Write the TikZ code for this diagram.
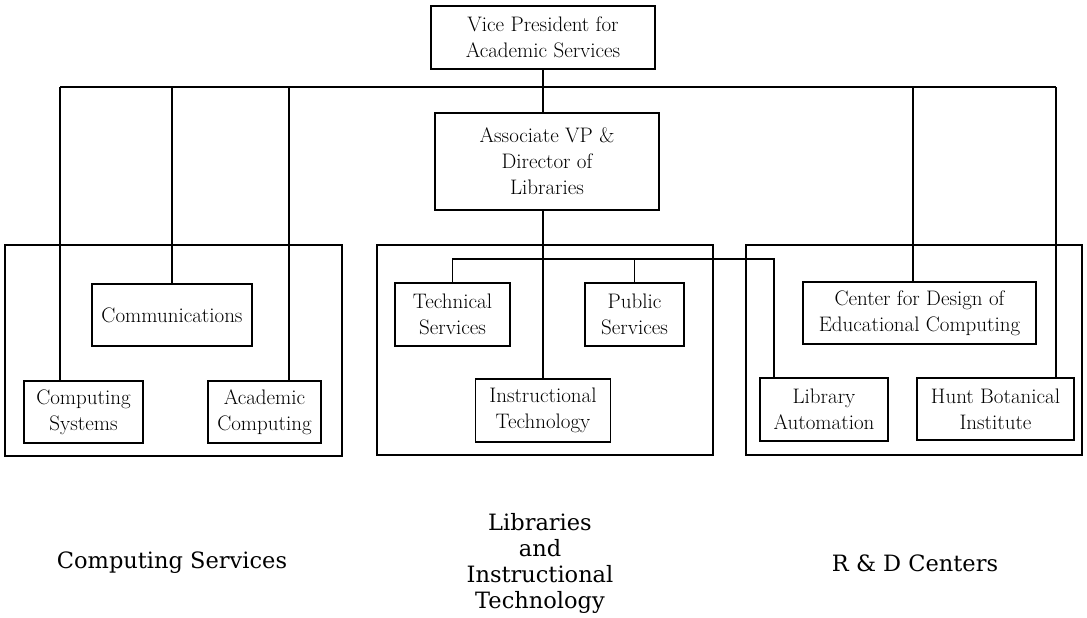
\documentclass[tikz,border=0pt]{standalone}
\usepackage{fontspec}
\newfontfamily\labelfont{DejaVu Serif}
\begin{document}
\begin{tikzpicture}[x=1pt,y=-1pt,
  box/.style={draw, line width=1.3pt, inner sep=0pt, align=center, fill=white,
              font=\fontsize{21}{26}\selectfont},
  group/.style={draw, line width=2.6pt, inner sep=0pt},
  conn/.style={line width=1.3pt},
  lbl/.style={align=center, inner sep=0pt, font=\labelfont\fontsize{22.5}{26}\selectfont}]
\useasboundingbox (0,0) rectangle (1087,618);

% group frames
\node[group, minimum width=337, minimum height=211] (gcs) at (173.5,350.5) {};
\node[group, minimum width=336, minimum height=210] (glib) at (545,350) {};
\node[group, minimum width=336, minimum height=210] (grd) at (914,350) {};

% boxes
\node[box, minimum width=224, minimum height=63] (vp) at (543,37.5) {Vice President for\\Academic Services};
\node[box, minimum width=224, minimum height=97] (avp) at (547,161.5) {Associate VP \&\\Director of\\Libraries};

\node[box, minimum width=160, minimum height=62] (comm) at (172,315) {Communications};
\node[box, minimum width=119, minimum height=62] (csys) at (83.5,412) {Computing\\Systems};
\node[box, minimum width=113, minimum height=62] (acad) at (264.5,412) {Academic\\Computing};

\node[box, minimum width=115, minimum height=63] (tech) at (452.5,314.5) {Technical\\Services};
\node[box, minimum width=99, minimum height=63] (pub) at (634.5,314.5) {Public\\Services};
\node[box, minimum width=135, minimum height=63] (instr) at (543,410.5) {Instructional\\Technology};

\node[box, minimum width=233, minimum height=62] (cdec) at (919.5,313) {Center for Design of\\Educational Computing};
\node[box, minimum width=128, minimum height=63] (libaut) at (824,409.5) {Library\\Automation};
\node[box, minimum width=157, minimum height=62] (hunt) at (995.5,409) {Hunt Botanical\\Institute};

% connectors
\coordinate (busL) at (60,87);
\coordinate (busR) at (1056,87);
\coordinate (la) at (774,259);
\draw[conn] (busL) -- (busR);
\draw[conn] (vp.south) -- (vp.south |- busL);
\draw[conn] (vp.south |- busL) -- (vp.south |- avp.north);
\draw[conn] (busL) -- (busL |- csys.north);
\draw[conn] (comm.north) -- (comm.north |- busL);
\draw[conn] ([xshift=24.5pt]acad.north) -- ([xshift=24.5pt]acad.north |- busL);
\draw[conn] ([xshift=-6.5pt]cdec.north) -- ([xshift=-6.5pt]cdec.north |- busL);
\draw[conn] (busR) -- (busR |- hunt.north);
\draw[conn] (instr.north |- avp.south) -- (instr.north);
\draw[conn] (tech.north) |- (la) -- (la |- libaut.north);
\draw[conn] (pub.north) -- (pub.north |- la);

% group labels
\node[lbl] (lcs) at (172,563) {Computing Services};
\node[lbl] (llib) at (540,563) {Libraries\\and\\Instructional\\Technology};
\node[lbl] (lrd) at (915,563) {R \& D Centers};
\end{tikzpicture}
\end{document}
